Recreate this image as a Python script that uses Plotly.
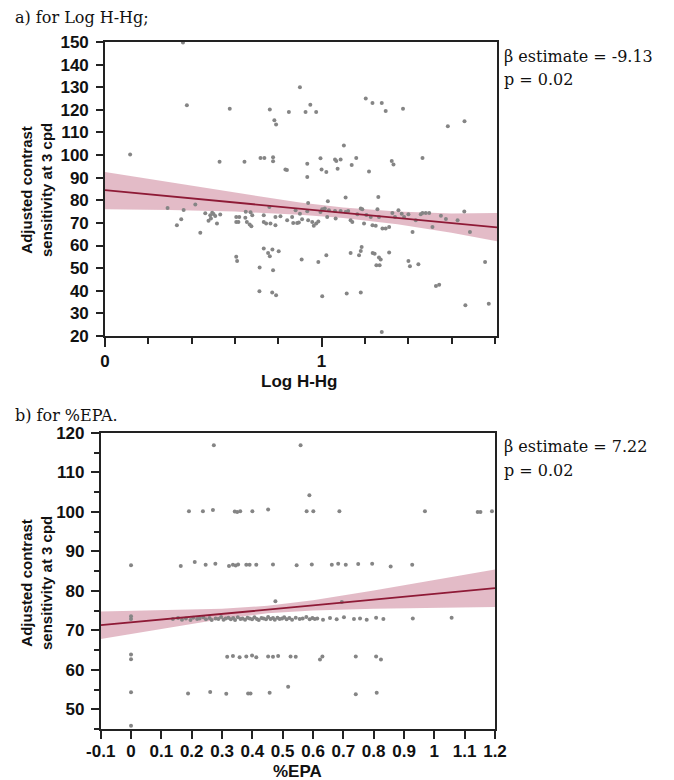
import plotly.graph_objects as go

W, H = 674, 780

# ---------------- Panel a: Log H-Hg ----------------
hg_x = [0.36, 0.378, 0.116, 0.576, 0.761, 0.849, 0.782, 0.79, 0.9, 0.529, 0.644, 0.718, 0.736,
        0.776, 0.776, 0.833, 0.84,
        0.417, 0.289, 0.363, 0.352, 0.332, 0.44, 0.463, 0.486, 0.501, 0.509, 0.478, 0.489, 0.517,
        0.532, 0.495, 0.606, 0.62, 0.606, 0.616, 0.65, 0.648, 0.655, 0.668, 0.672, 0.68, 0.676,
        0.733, 0.733, 0.744, 0.764, 0.787, 0.787, 0.81, 0.841, 0.864, 0.869, 0.887, 0.9, 0.759,
        0.733, 0.753, 0.761, 0.773, 0.802, 0.606, 0.61, 0.714, 0.776, 0.713, 0.772, 0.79, 0.908,
        0.948, 0.926, 0.975, 1.204, 1.235, 1.278, 1.296, 1.376, 1.583, 1.66, 1.103, 0.934, 0.995,
        1.0, 1.022, 1.062, 1.068, 1.088, 1.074, 1.139, 1.16, 1.219, 1.324, 1.332, 1.466, 0.934,
        1.111, 1.262, 0.938, 1.029,
        0.88, 0.91, 0.895, 0.934, 0.938, 0.957, 0.964, 0.975, 0.985, 0.995, 1.003, 1.015, 1.026,
        1.034, 1.062, 1.065, 1.088, 1.111, 1.123, 1.134, 1.142, 1.165, 1.181, 1.188, 1.196, 1.207,
        1.227, 1.235, 1.25, 1.258, 1.265, 1.281, 1.296, 1.312, 1.327, 1.339, 1.355, 1.37, 1.381,
        1.401, 1.42, 1.435, 1.458, 1.466, 1.481, 1.497, 1.512, 1.551, 1.574, 1.628, 1.659, 1.685,
        0.985, 1.022, 1.134, 1.173, 1.181, 1.185, 1.236, 1.245, 1.265, 1.273, 1.253, 1.268, 1.312,
        1.401, 1.408, 1.447, 1.528, 1.543, 1.755, 1.003, 1.116, 1.181, 1.278, 1.664, 1.772]
hg_y = [149.8, 122.0, 100.2, 120.5, 120.2, 119.0, 115.4, 113.5, 130.0, 97.1, 97.1, 98.7, 98.7,
        99.0, 97.3, 93.6, 93.4,
        78.1, 76.6, 75.7, 71.6, 69.0, 65.7, 74.3, 73.4, 74.0, 73.1, 71.0, 72.0, 69.7,
        73.7, 74.5, 72.6, 72.6, 70.4, 70.4, 74.9, 72.3, 70.4, 69.3, 74.7, 73.4, 68.5,
        73.4, 70.4, 69.7, 69.7, 72.6, 69.0, 73.0, 71.2, 72.6, 70.0, 70.0, 74.1, 77.0,
        58.7, 56.7, 55.3, 58.2, 57.5, 55.0, 53.2, 50.3, 49.1, 39.8, 39.2, 38.0, 53.8,
        122.3, 119.1, 119.1, 125.0, 123.0, 123.0, 119.5, 120.5, 112.7, 115.0, 104.2, 96.2, 98.6,
        93.6, 92.5, 98.0, 97.4, 98.0, 93.9, 95.6, 98.7, 92.7, 97.4, 95.8, 98.7, 90.3,
        81.2, 81.5, 78.8, 79.6,
        75.6, 71.6, 70.2, 75.2, 71.2, 70.4, 68.8, 69.7, 70.6, 74.8, 76.1, 76.4, 72.6,
        75.6, 75.3, 72.0, 75.3, 74.8, 75.3, 71.2, 70.4, 73.8, 76.4, 76.0, 69.7, 73.5,
        72.6, 69.0, 68.7, 76.0, 72.6, 67.5, 67.5, 68.2, 74.4, 72.6, 75.6, 74.1, 72.6,
        73.8, 66.0, 71.2, 73.8, 74.4, 74.4, 74.4, 68.2, 73.2, 71.7, 71.2, 75.0, 66.0,
        52.7, 55.7, 56.7, 55.7, 57.6, 59.4, 56.7, 56.4, 54.7, 53.8, 51.3, 51.3, 56.9,
        53.2, 50.8, 51.7, 42.1, 42.7, 52.7, 37.6, 38.8, 39.2, 21.8, 33.6, 34.3]

hg_fit_x = [0, 0.3, 0.6, 0.9, 1.1, 1.35, 1.6, 1.81]
hg_fit_y = [84.5, 81.8, 79.0, 76.3, 74.5, 72.2, 69.9, 68.0]
hg_fit_hi = [92.5, 88.0, 83.4, 79.0, 76.8, 75.0, 74.2, 74.4]
hg_fit_lo = [76.0, 75.7, 75.0, 73.6, 72.2, 69.4, 65.6, 61.9]

# ---------------- Panel b: %EPA ----------------
epa_x = [0.273, 0.559, 0.588,
         0.191, 0.237, 0.27, 0.342, 0.35, 0.36, 0.4, 0.452, 0.579, 0.601, 0.687, 0.969, 1.143, 1.152, 1.19,
         0.0, 0.164, 0.21, 0.246, 0.278, 0.323, 0.336, 0.345, 0.353, 0.38, 0.391, 0.413, 0.468, 0.546,
         0.596, 0.662, 0.683, 0.708, 0.749, 0.795, 0.856, 0.927,
         0.476, 0.695,
         0.0, 0.0,
         0.138, 0.155, 0.168, 0.181, 0.196, 0.205, 0.218, 0.226, 0.238, 0.247, 0.259, 0.266, 0.279,
         0.288, 0.297, 0.305, 0.312, 0.321, 0.329, 0.337, 0.343, 0.352, 0.361, 0.368, 0.376, 0.384,
         0.391, 0.399, 0.407, 0.415, 0.421, 0.43, 0.437, 0.445, 0.452, 0.46, 0.468, 0.474, 0.483,
         0.49, 0.498, 0.505, 0.513, 0.522, 0.531, 0.543, 0.556, 0.566, 0.578, 0.589, 0.598, 0.606,
         0.614, 0.633, 0.656, 0.678, 0.702, 0.735, 0.755, 0.777, 0.808, 0.832, 0.929, 1.057,
         0.0, 0.0, 0.317, 0.336, 0.358, 0.38, 0.399, 0.413, 0.452, 0.468, 0.485, 0.526, 0.543,
         0.623, 0.631, 0.741, 0.808, 0.824,
         0.0, 0.188, 0.261, 0.314, 0.386, 0.394, 0.457, 0.741, 0.81,
         0.518, 0.0]
epa_y = [116.9, 116.9, 104.2,
         100.2, 100.2, 100.5, 100.1, 100.0, 100.2, 100.2, 100.6, 100.2, 100.2, 100.2, 100.2, 100.0, 100.0, 100.2,
         86.5, 86.3, 87.3, 86.6, 86.9, 86.3, 86.6, 86.4, 86.7, 86.6, 86.6, 86.6, 86.7, 86.5,
         86.7, 86.6, 86.9, 86.6, 86.8, 86.9, 86.2, 86.6,
         77.4, 77.2,
         73.6, 72.9,
         72.9, 73.1, 72.7, 73.0, 72.6, 73.2, 72.9, 73.0, 73.3, 72.8, 73.1, 72.6, 73.0,
         72.9, 73.4, 72.7, 73.0, 73.2, 72.8, 73.1, 72.6, 73.3, 72.9, 73.0, 72.7, 73.2,
         73.0, 72.8, 73.3, 72.9, 72.6, 73.1, 73.0, 72.8, 73.4, 72.9, 73.1, 72.7, 73.2,
         72.9, 73.0, 73.3, 72.8, 73.1, 72.7, 73.2, 72.9, 73.0, 73.4, 72.8, 73.1, 72.9,
         73.0, 72.7, 73.1, 72.8, 73.3, 72.9, 73.0, 72.7, 73.2, 72.9, 73.0, 73.2,
         63.9, 62.7, 63.3, 63.5, 63.2, 63.4, 63.6, 63.2, 63.4, 63.3, 63.5, 63.4, 63.3,
         62.6, 63.4, 63.4, 63.4, 62.6,
         54.3, 54.0, 54.4, 53.9, 54.0, 54.0, 54.2, 53.8, 54.2,
         55.7, 45.8]

epa_fit_x = [-0.1, 0.1, 0.3, 0.45, 0.6, 0.8, 1.0, 1.2]
epa_fit_y = [71.3, 72.7, 74.2, 75.2, 76.3, 77.8, 79.2, 80.7]
epa_fit_hi = [74.8, 75.1, 75.5, 76.2, 77.6, 80.1, 82.7, 85.4]
epa_fit_lo = [67.8, 70.4, 72.9, 74.3, 75.0, 75.5, 75.7, 75.9]

# ---------------- Styles ----------------
BAND = "rgba(194, 105, 130, 0.45)"
LINE = "#8e1a36"
DOT = "#858585"
AXC = "#222222"
TICKFONT = dict(family="Liberation Sans", size=17, color="#111111", weight="bold")
SERIF = "DejaVu Serif"
SERIF_FONT = dict(family=SERIF, size=16, color="#111111")

fig = go.Figure()

def add_panel(xs, ys, fx, fy, fhi, flo, xa, ya):
    fig.add_trace(go.Scatter(x=fx + fx[::-1], y=fhi + flo[::-1], fill="toself",
                             fillcolor=BAND, line=dict(width=0), mode="lines",
                             hoverinfo="skip", showlegend=False, xaxis=xa, yaxis=ya))
    fig.add_trace(go.Scatter(x=xs, y=ys, mode="markers",
                             marker=dict(size=4, color=DOT, line=dict(width=0)),
                             showlegend=False, cliponaxis=False, xaxis=xa, yaxis=ya))
    fig.add_trace(go.Scatter(x=fx, y=fy, mode="lines", line=dict(color=LINE, width=1.8),
                             showlegend=False, xaxis=xa, yaxis=ya))

add_panel(hg_x, hg_y, hg_fit_x, hg_fit_y, hg_fit_hi, hg_fit_lo, "x", "y")
add_panel(epa_x, epa_y, epa_fit_x, epa_fit_y, epa_fit_hi, epa_fit_lo, "x2", "y2")

axis_common = dict(showline=True, mirror=True, linecolor=AXC, linewidth=1.6,
                   ticks="outside", tickcolor=AXC, tickwidth=1.5, showgrid=False,
                   zeroline=False, tickfont=TICKFONT, automargin=False)

fig.update_layout(
    width=W, height=H, margin=dict(l=0, r=0, t=0, b=0, autoexpand=False),
    paper_bgcolor="white", plot_bgcolor="white",
    xaxis=dict(domain=[105 / W, 497 / W], range=[0, 1.81], tickmode="array",
               tickvals=[0, 1], ticktext=["0", "1"], ticklen=9,
               minor=dict(tickvals=[0.2, 0.4, 0.6, 0.8, 1.2, 1.4, 1.6, 1.8], ticklen=6,
                          ticks="outside", tickcolor=AXC, tickwidth=1.5, showgrid=False),
               anchor="y", **axis_common),
    yaxis=dict(domain=[1 - 336 / H, 1 - 42 / H], range=[20, 150], tickmode="array",
               tickvals=list(range(20, 151, 10)), ticklen=7, ticklabelstandoff=4,
               anchor="x", **axis_common),
    xaxis2=dict(domain=[100.7 / W, 495 / W], range=[-0.1, 1.2], tickmode="array",
                tickvals=[-0.1, 0, 0.1, 0.2, 0.3, 0.4, 0.5, 0.6, 0.7, 0.8, 0.9, 1, 1.1, 1.2],
                ticktext=["-0.1", "0", "0.1", "0.2", "0.3", "0.4", "0.5", "0.6", "0.7", "0.8",
                          "0.9", "1", "1.1", "1.2"],
                ticklen=8, ticklabelstandoff=-2, anchor="y2", **axis_common),
    yaxis2=dict(domain=[1 - 729 / H, 1 - 433 / H], range=[45, 120], tickmode="array",
                tickvals=[50, 60, 70, 80, 90, 100, 110, 120], ticklen=8, ticklabelstandoff=3,
                minor=dict(tickvals=[45, 55, 65, 75, 85, 95, 105, 115], ticklen=5,
                           ticks="outside", tickcolor=AXC, tickwidth=1.5, showgrid=False),
                anchor="x2", **axis_common),
)

ytitle = "Adjusted contrast<br>sensitivity at 3 cpd"
YLBL = dict(family="Liberation Sans", size=15, color="#111111", weight="bold")
XLBL = dict(family="Liberation Sans", size=17, color="#111111", weight="bold")
ann = [
    dict(text="a) for Log H-Hg;", x=13 / W, y=1 - 17 / H, xanchor="left", yanchor="middle",
         font=SERIF_FONT),
    dict(text="b) for %EPA.", x=13 / W, y=1 - 415 / H, xanchor="left", yanchor="middle",
         font=SERIF_FONT),
    dict(text="β estimate = -9.13", x=502 / W, y=1 - 57 / H, xanchor="left",
         yanchor="middle", font=SERIF_FONT),
    dict(text="p = 0.02", x=502 / W, y=1 - 80 / H, xanchor="left",
         yanchor="middle", font=SERIF_FONT),
    dict(text="β estimate = 7.22", x=502 / W, y=1 - 447 / H, xanchor="left",
         yanchor="middle", font=SERIF_FONT),
    dict(text="p = 0.02", x=502 / W, y=1 - 470 / H, xanchor="left",
         yanchor="middle", font=SERIF_FONT),
    dict(text=ytitle, x=36 / W, y=1 - 190 / H, xanchor="center", yanchor="middle",
         textangle=-90, font=YLBL),
    dict(text=ytitle, x=36 / W, y=1 - 583 / H, xanchor="center", yanchor="middle",
         textangle=-90, font=YLBL),
    dict(text="Log H-Hg", x=299 / W, y=1 - 381 / H, xanchor="center", yanchor="middle", font=XLBL),
    dict(text="%EPA", x=297 / W, y=1 - 771 / H, xanchor="center", yanchor="middle", font=XLBL),
]
for a in ann:
    a.update(xref="paper", yref="paper", showarrow=False)
fig.update_layout(annotations=ann)

fig.write_html("out.html", config={"displayModeBar": False},
               post_script="document.body.style.margin='0px';")
